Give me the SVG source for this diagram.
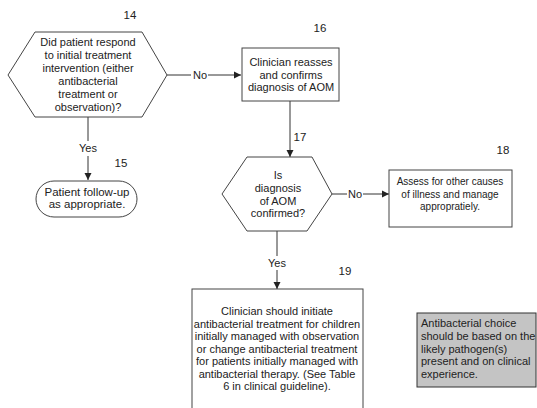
<svg xmlns="http://www.w3.org/2000/svg" width="537" height="408" viewBox="0 0 537 408">
<defs>
<marker id="arr" markerWidth="8" markerHeight="8" refX="7" refY="4" orient="auto" markerUnits="userSpaceOnUse">
<path d="M0,0.5 L7,4 L0,7.5 Z" fill="#222"/>
</marker>
<style>
text{font-family:"Liberation Sans",Arial,sans-serif;font-size:11px;fill:#222;}
.c{text-anchor:middle;}
.shape{fill:#fff;stroke:#444;stroke-width:1;}
.grey{fill:#c4c4c4;stroke:#333;stroke-width:1;}
.ln{stroke:#333;stroke-width:1;fill:none;}
.num{font-size:11.5px;}
.sm{font-size:10px;}
.lg{font-size:11.5px;}
</style>
</defs>
<rect width="537" height="408" fill="#fff"/>

<g id="connectors">
<line class="ln" x1="167" y1="75" x2="191" y2="75"/>
<line class="ln" x1="208" y1="75" x2="241" y2="75" marker-end="url(#arr)"/>
<text class="c" x="200" y="79">No</text>
<line class="ln" x1="88" y1="117" x2="88" y2="141"/>
<line class="ln" x1="88" y1="156" x2="88" y2="180" marker-end="url(#arr)"/>
<text class="c" x="88" y="152">Yes</text>
<line class="ln" x1="290" y1="101" x2="290" y2="157" marker-end="url(#arr)"/>
<line class="ln" x1="332" y1="194" x2="347" y2="194"/>
<line class="ln" x1="363" y1="194" x2="389" y2="194" marker-end="url(#arr)"/>
<text class="c" x="355" y="198">No</text>
<line class="ln" x1="277" y1="231" x2="277" y2="256"/>
<line class="ln" x1="277" y1="270" x2="277" y2="289" marker-end="url(#arr)"/>
<text class="c" x="277" y="267">Yes</text>
</g>

<g id="node14">
<polygon class="shape" points="8,75 35,32 142,32 167,75 142,117 35,117"/>
<text class="c" x="88" y="46">Did patient respond</text>
<text class="c" x="88" y="59">to initial treatment</text>
<text class="c" x="88" y="72">intervention (either</text>
<text class="c" x="88" y="85">antibacterial</text>
<text class="c" x="88" y="98">treatment or</text>
<text class="c" x="88" y="111">observation)?</text>
<text class="c num" x="130" y="19">14</text>
</g>

<g id="node15">
<rect class="shape" x="36" y="181" width="101" height="36" rx="18" ry="18"/>
<text class="c lg" x="87" y="196">Patient follow-up</text>
<text class="c lg" x="87" y="208">as appropriate.</text>
<text class="c num" x="121" y="167">15</text>
</g>

<g id="node16">
<rect class="shape" x="242" y="48" width="97" height="53"/>
<text class="c" x="291" y="66">Clinician reasses</text>
<text class="c" x="291" y="78.5">and confirms</text>
<text class="c" x="291" y="91">diagnosis of AOM</text>
<text class="c num" x="320" y="32">16</text>
</g>

<g id="node17">
<polygon class="shape" points="222,194 247,157 312,157 332,194 307,231 247,231"/>
<text class="c" x="278" y="179">Is</text>
<text class="c" x="278" y="192">diagnosis</text>
<text class="c" x="278" y="205">of AOM</text>
<text class="c" x="278" y="217">confirmed?</text>
<text class="c num" x="300" y="141">17</text>
</g>

<g id="node18">
<rect class="shape" x="389" y="170" width="123" height="57"/>
<text class="c sm" x="450" y="185">Assess for other causes</text>
<text class="c sm" x="450" y="197.5">of illness and manage</text>
<text class="c sm" x="450" y="210">appropratiely.</text>
<text class="c num" x="503" y="154">18</text>
</g>

<g id="node19">
<rect class="shape" x="192" y="289" width="171" height="125"/>
<text class="c" x="277" y="315">Clinician should initiate</text>
<text class="c" x="277" y="327.5">antibacterial treatment for children</text>
<text class="c" x="277" y="340">initially managed with observation</text>
<text class="c" x="277" y="352.5">or change antibacterial treatment</text>
<text class="c" x="277" y="365">for patients initially managed with</text>
<text class="c" x="277" y="377.5">antibacterial therapy. (See Table</text>
<text class="c" x="277" y="390">6 in clinical guideline).</text>
<text class="c num" x="345" y="275">19</text>
</g>

<g id="note">
<rect class="grey" x="417" y="313" width="119" height="74"/>
<text x="421" y="327">Antibacterial choice</text>
<text x="421" y="340">should be based on the</text>
<text x="421" y="352.5">likely pathogen(s)</text>
<text x="421" y="365">present and on clinical</text>
<text x="421" y="377.5">experience.</text>
</g>
</svg>
